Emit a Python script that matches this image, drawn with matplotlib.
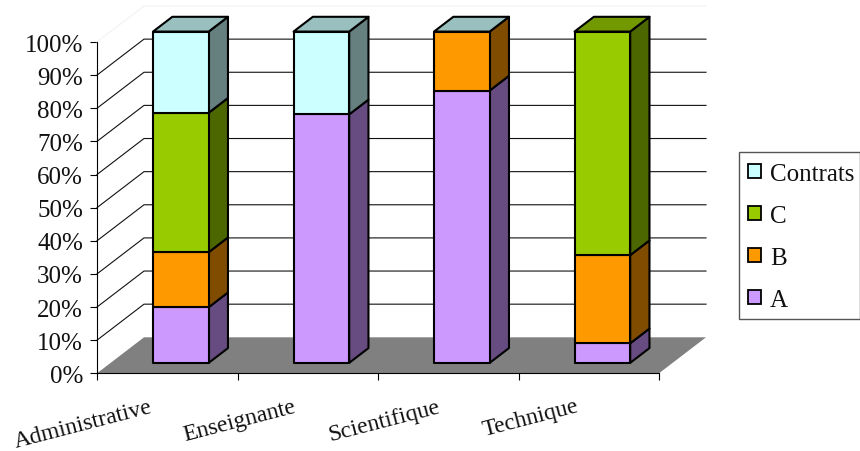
import numpy as np
import matplotlib
matplotlib.use('Agg')
import matplotlib.pyplot as plt
from matplotlib.patches import Polygon, Patch, Rectangle
from matplotlib.transforms import Affine2D

plt.rcParams['font.family'] = ['Liberation Serif', 'DejaVu Sans']

categories = ['Administrative', 'Enseignante', 'Scientifique', 'Technique']
series_names = ['A', 'B', 'C', 'Contrats']
a_values = [16.8, 75.0, 82.2, 5.9]
b_values = [16.6, 0.0, 17.8, 26.6]
c_values = [42.1, 0.0, 0.0, 67.5]
contrats_values = [24.5, 25.0, 0.0, np.nan]
y_ticks = [0, 10, 20, 30, 40, 50, 60, 70, 80, 90, 100]
y_labels = ['0%', '10%', '20%', '30%', '40%', '50%', '60%', '70%', '80%', '90%', '100%']

front_colors = ['#CC99FF', '#FF9900', '#99CC00', '#CCFFFF']
side_colors = ['#664C80', '#804C00', '#4C6600', '#668080']
top_colors = ['#9973BF', '#BF7300', '#739900', '#99BFBF']

# depth of the fake 3d box, in data units
DX = 47 / 140.5
DY = 36 / 3.313
BAR_W = 0.198
D_FRONT = 0.29
D_BACK = 0.70
EDGE = 1.5


def pr(cat, val, depth):
    return (cat + depth * DX, val + depth * DY)


fig = plt.figure(figsize=(8.6, 4.52), dpi=100)
ax = fig.add_axes([97 / 860, 77.7 / 452, 562 / 860, 331.3 / 452])
ax.set_xlim(0, 4)
ax.set_ylim(0, 100)
ax.patch.set_visible(False)
for s in ['top', 'right']:
    ax.spines[s].set_visible(False)
for s in ['left', 'bottom']:
    ax.spines[s].set_linewidth(0.8)
    ax.spines[s].set_zorder(6)

# floor
ax.add_patch(Polygon([pr(0, 0, 0), pr(4, 0, 0), pr(4, 0, 1), pr(0, 0, 1)],
                     fc='#808080', ec='none', clip_on=False, zorder=1))

# walls
for v in y_ticks[1:]:
    col = '#f2f2f2' if v == 100 else '#111111'
    xs, ys = zip(pr(0, v, 0), pr(0, v, 1), pr(4, v, 1))
    ax.plot(xs, ys, color=col, lw=0.8, clip_on=False, zorder=2, snap=False)

# bars
table = np.array([a_values, b_values, c_values, contrats_values])
for i in range(len(categories)):
    x0 = i + 0.5 - BAR_W
    x1 = i + 0.5 + BAR_W
    base = 0
    last = 0
    for k in range(len(series_names)):
        val = table[k, i]
        if np.isnan(val):
            continue
        last = k
        if val == 0:
            continue
        top = base + val
        ax.add_patch(Polygon([pr(x1, base, D_FRONT), pr(x1, base, D_BACK), pr(x1, top, D_BACK), pr(x1, top, D_FRONT)],
                             fc=side_colors[k], ec='black', lw=EDGE, joinstyle='round', clip_on=False, zorder=3))
        ax.add_patch(Polygon([pr(x0, base, D_FRONT), pr(x1, base, D_FRONT), pr(x1, top, D_FRONT), pr(x0, top, D_FRONT)],
                             fc=front_colors[k], ec='black', lw=EDGE, joinstyle='round', clip_on=False, zorder=4))
        base = top
    ax.add_patch(Polygon([pr(x0, base, D_FRONT), pr(x1, base, D_FRONT), pr(x1, base, D_BACK), pr(x0, base, D_BACK)],
                         fc=top_colors[last], ec='black', lw=EDGE, joinstyle='round', clip_on=False, zorder=4))

ax.set_yticks(y_ticks)
ax.set_yticklabels(y_labels, fontsize=18, color='#111111')
ax.tick_params(axis='y', length=5, width=0.8, pad=5)
ax.set_xticks(range(5))
ax.set_xticklabels([])
ax.tick_params(axis='x', which='major', length=5, width=0.8)

ax.set_xticks(np.arange(4) + 0.5, categories, minor=True)
ax.tick_params(axis='x', which='minor', length=0, pad=16, labelsize=17, labelcolor='#111111')
label_shift = [-18, -15, -11, -13]
for lab, dx in zip(ax.get_xticklabels(minor=True), label_shift):
    lab.set_rotation(14.5)
    lab.set_rotation_mode('anchor')
    lab.set_ha('right')
    lab.set_va('top')
    lab.set_transform(lab.get_transform() + Affine2D().translate(dx, 0))

# legend frame apart from the entries, the box runs to the image edge
fig.add_artist(Rectangle((739 / 860, 1 - 320 / 452), 120.5 / 860, 167 / 452, transform=fig.transFigure,
                         fc='white', ec='#555555', lw=1))
handles = [Patch(fc=front_colors[k], ec='black', lw=1.3, label=series_names[k]) for k in [3, 2, 1, 0]]
fig.legend(handles=handles, loc='upper left', bbox_to_anchor=(748 / 860, 1 - 164 / 452), borderaxespad=0,
           fontsize=18, frameon=False, handlelength=0.52, handleheight=0.52, handletextpad=0.36,
           labelspacing=0.8, borderpad=0, labelcolor='#111111')

fig.savefig('out.png', dpi=100)
